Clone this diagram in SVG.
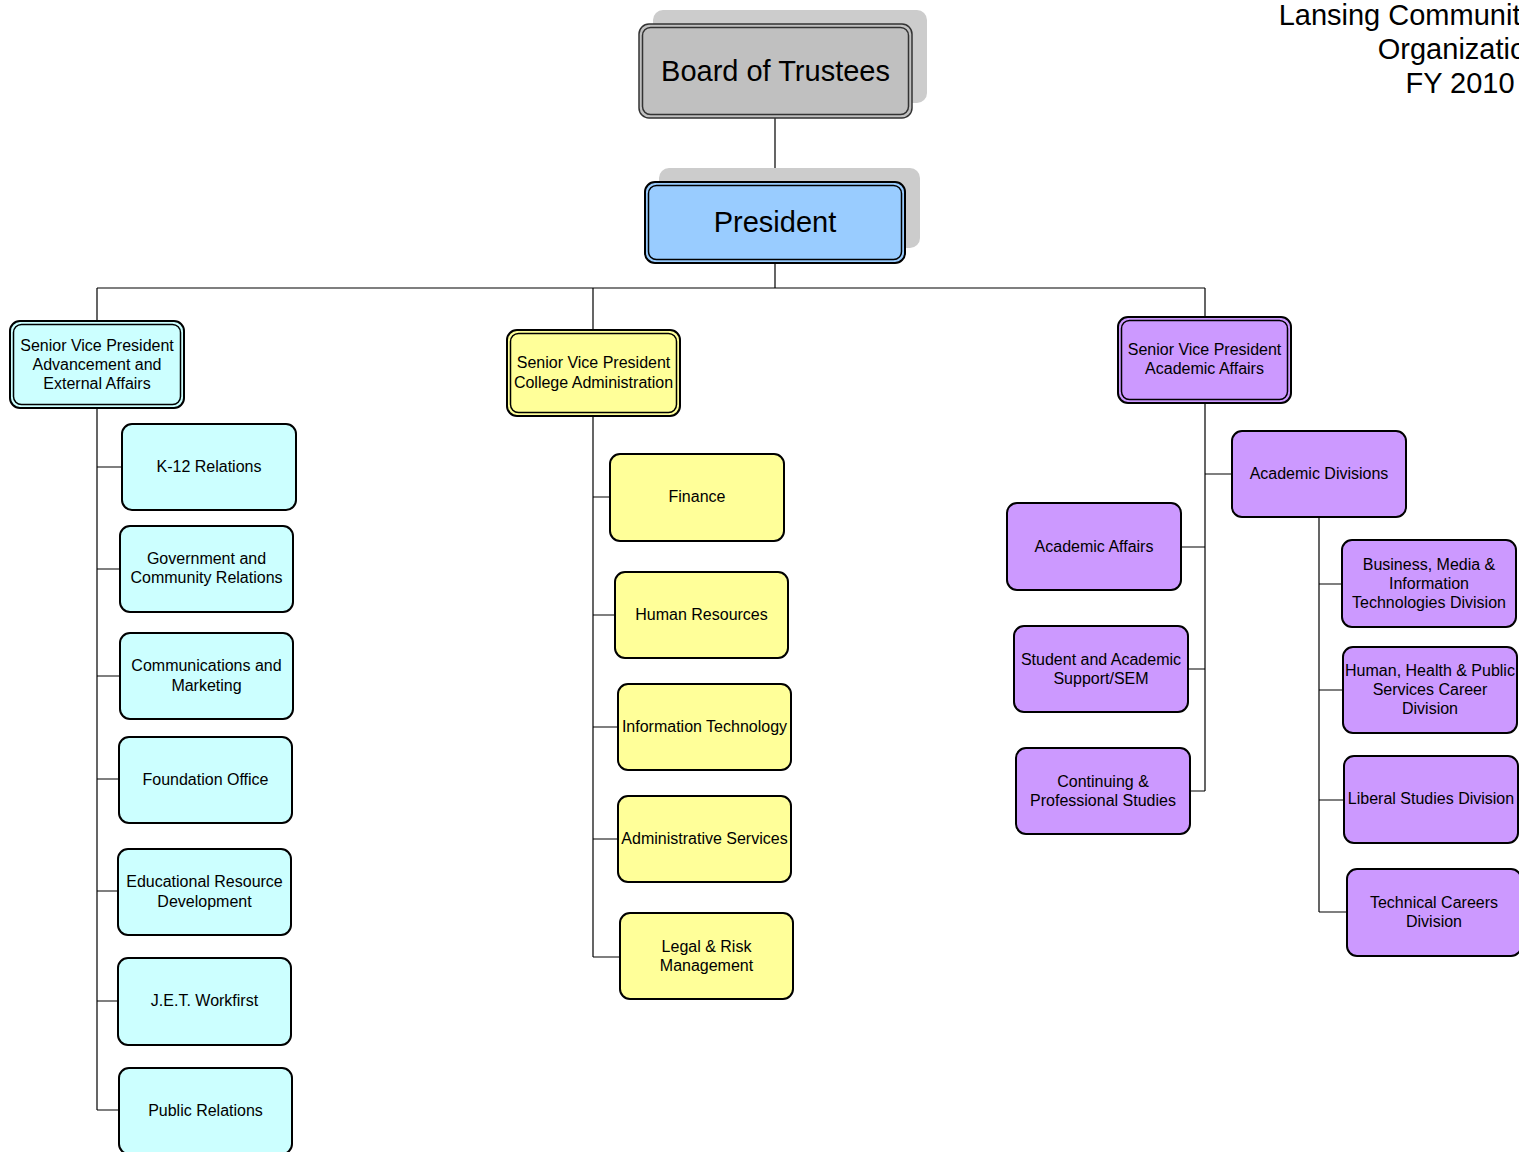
<svg xmlns="http://www.w3.org/2000/svg" width="1519" height="1152" viewBox="0 0 1519 1152">
<style>
text{font-family:"Liberation Sans",Arial,sans-serif;fill:#000;text-anchor:middle}
.t{font-size:16px}
.big{font-size:29px}
.box{stroke:#000;stroke-width:2}
.cy{fill:#ccffff}.ye{fill:#ffff99}.pu{fill:#cc99ff}
.in{fill:none;stroke:#000;stroke-width:1.5}
.conn{fill:none;stroke:#000;stroke-width:1.2}
.sh{fill:#cccccc}
</style>
<rect width="1519" height="1152" fill="#fff"/>
<g id="title">
<text class="big" x="1460" y="25">Lansing Community College</text>
<text class="big" x="1460" y="59">Organization</text>
<text class="big" x="1460" y="93">FY 2010</text>
</g>
<g id="connectors">
<path class="conn" d="M775 118V182M775 263V288M97 288H1205M97 288V321M593 288V330M1205 288V317"/>
<path class="conn" d="M97 408V1110M97 467H122M97 569H120M97 676H120M97 779H119M97 891H118M97 1001H118M97 1110H119"/>
<path class="conn" d="M593 416V957M593 497H610M593 615H615M593 727H618M593 839H618M593 957H620"/>
<path class="conn" d="M1205 403V791M1205 474H1232M1181 547H1205M1188 669H1205M1190 791H1205"/>
<path class="conn" d="M1319 517V912M1319 584H1342M1319 690H1343M1319 800H1344M1319 912H1347"/>
</g>
<g id="board">
<rect class="sh" x="653" y="10" width="274" height="93" rx="10"/>
<rect x="639" y="24" width="273" height="94" rx="10" fill="#c0c0c0" stroke="#333" stroke-width="1.5"/>
<rect x="642.5" y="27.5" width="266" height="87" rx="8" fill="none" stroke="#333" stroke-width="1.5"/>
<text class="big" x="775.5" y="81">Board of Trustees</text>
</g>
<g id="president">
<rect class="sh" x="659" y="168" width="261" height="80" rx="10"/>
<rect x="645" y="182" width="260" height="81" rx="10" fill="#99ccff" stroke="#000" stroke-width="2"/>
<rect x="648.5" y="185.5" width="253" height="74" rx="8" class="in"/>
<text class="big" x="775" y="232">President</text>
</g>
<g id="svp-advancement">
<rect class="box cy" x="10" y="321" width="174" height="87" rx="10"/>
<rect class="in" x="13.5" y="324.5" width="167" height="80" rx="8"/>
<text class="t" x="97" y="351">Senior Vice President</text>
<text class="t" x="97" y="370">Advancement and</text>
<text class="t" x="97" y="389">External Affairs</text>
</g>
<g id="svp-college-admin">
<rect class="box ye" x="507" y="330" width="173" height="86" rx="10"/>
<rect class="in" x="510.5" y="333.5" width="166" height="79" rx="8"/>
<text class="t" x="593.5" y="368">Senior Vice President</text>
<text class="t" x="593.5" y="388">College Administration</text>
</g>
<g id="svp-academic">
<rect class="box pu" x="1118" y="317" width="173" height="86" rx="10"/>
<rect class="in" x="1121.5" y="320.5" width="166" height="79" rx="8"/>
<text class="t" x="1204.5" y="355">Senior Vice President</text>
<text class="t" x="1204.5" y="374">Academic Affairs</text>
</g>
<g id="k12"><rect class="box cy" x="122" y="424" width="174" height="86" rx="10"/><text class="t" x="209" y="472">K-12 Relations</text></g>
<g id="gov"><rect class="box cy" x="120" y="526" width="173" height="86" rx="10"/><text class="t" x="206.5" y="564">Government and</text><text class="t" x="206.5" y="583">Community Relations</text></g>
<g id="comm"><rect class="box cy" x="120" y="633" width="173" height="86" rx="10"/><text class="t" x="206.5" y="671">Communications and</text><text class="t" x="206.5" y="691">Marketing</text></g>
<g id="foundation"><rect class="box cy" x="119" y="737" width="173" height="86" rx="10"/><text class="t" x="205.5" y="785">Foundation Office</text></g>
<g id="erd"><rect class="box cy" x="118" y="849" width="173" height="86" rx="10"/><text class="t" x="204.5" y="887">Educational Resource</text><text class="t" x="204.5" y="907">Development</text></g>
<g id="jet"><rect class="box cy" x="118" y="958" width="173" height="87" rx="10"/><text class="t" x="204.5" y="1006">J.E.T. Workfirst</text></g>
<g id="pr"><rect class="box cy" x="119" y="1068" width="173" height="86" rx="10"/><text class="t" x="205.5" y="1116">Public Relations</text></g>
<g id="finance"><rect class="box ye" x="610" y="454" width="174" height="87" rx="10"/><text class="t" x="697" y="502">Finance</text></g>
<g id="hr"><rect class="box ye" x="615" y="572" width="173" height="86" rx="10"/><text class="t" x="701.5" y="620">Human Resources</text></g>
<g id="it"><rect class="box ye" x="618" y="684" width="173" height="86" rx="10"/><text class="t" x="704.5" y="732">Information Technology</text></g>
<g id="admin"><rect class="box ye" x="618" y="796" width="173" height="86" rx="10"/><text class="t" x="704.5" y="844">Administrative Services</text></g>
<g id="legal"><rect class="box ye" x="620" y="913" width="173" height="86" rx="10"/><text class="t" x="706.5" y="952">Legal &amp; Risk</text><text class="t" x="706.5" y="971">Management</text></g>
<g id="acad-div"><rect class="box pu" x="1232" y="431" width="174" height="86" rx="10"/><text class="t" x="1319" y="479">Academic Divisions</text></g>
<g id="acad-aff"><rect class="box pu" x="1007" y="503" width="174" height="87" rx="10"/><text class="t" x="1094" y="552">Academic Affairs</text></g>
<g id="student"><rect class="box pu" x="1014" y="626" width="174" height="86" rx="10"/><text class="t" x="1101" y="665">Student and Academic</text><text class="t" x="1101" y="684">Support/SEM</text></g>
<g id="continuing"><rect class="box pu" x="1016" y="748" width="174" height="86" rx="10"/><text class="t" x="1103" y="787">Continuing &amp;</text><text class="t" x="1103" y="806">Professional Studies</text></g>
<g id="business"><rect class="box pu" x="1342" y="540" width="174" height="87" rx="10"/><text class="t" x="1429" y="570">Business, Media &amp;</text><text class="t" x="1429" y="589">Information</text><text class="t" x="1429" y="608">Technologies Division</text></g>
<g id="human"><rect class="box pu" x="1343" y="647" width="174" height="86" rx="10"/><text class="t" x="1430" y="676">Human, Health &amp; Public</text><text class="t" x="1430" y="695">Services Career</text><text class="t" x="1430" y="714">Division</text></g>
<g id="liberal"><rect class="box pu" x="1344" y="756" width="174" height="87" rx="10"/><text class="t" x="1431" y="804">Liberal Studies Division</text></g>
<g id="technical"><rect class="box pu" x="1347" y="869" width="174" height="87" rx="10"/><text class="t" x="1434" y="908">Technical Careers</text><text class="t" x="1434" y="927">Division</text></g>
</svg>
